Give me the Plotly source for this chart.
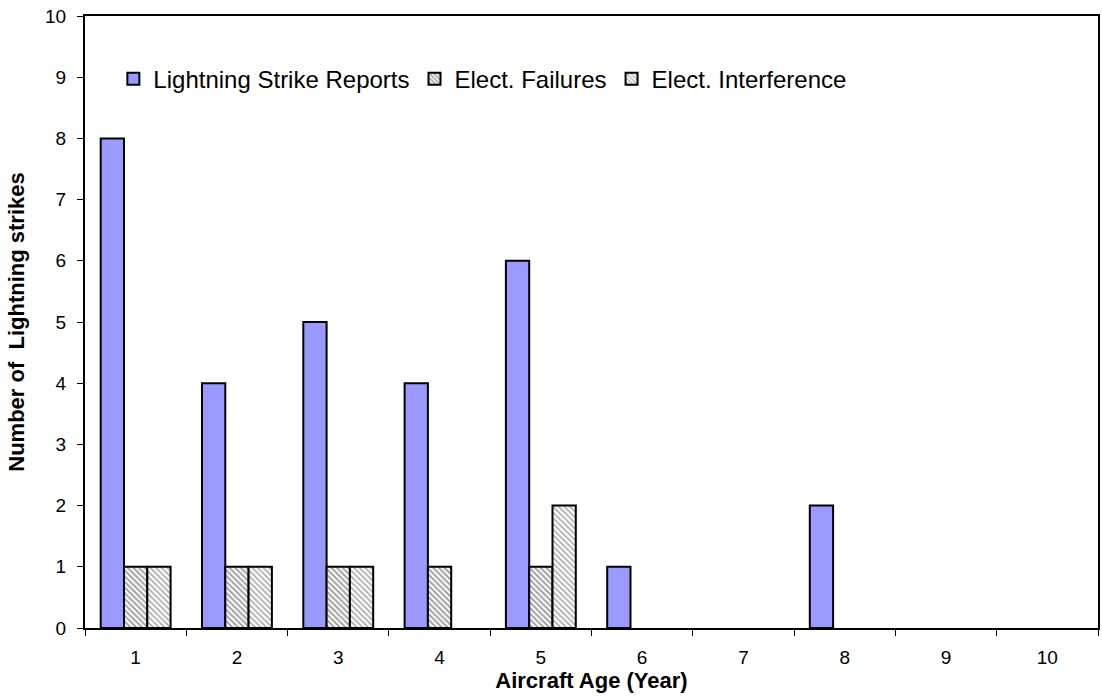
import plotly.graph_objects as go

ages = ["1", "2", "3", "4", "5", "6", "7", "8", "9", "10"]
lightning = [8, 4, 5, 4, 6, 1, 0, 2, 0, 0]
failures = [1, 1, 1, 1, 1, 0, 0, 0, 0, 0]
interference = [1, 1, 1, 0, 2, 0, 0, 0, 0, 0]


def edge_widths(vals):
    return [2 if v > 0 else 0 for v in vals]


fig = go.Figure()
fig.add_trace(go.Bar(
    x=ages, y=lightning, name="Lightning Strike Reports",
    marker=dict(color="#9999FF", line=dict(color="black", width=edge_widths(lightning))),
))
fig.add_trace(go.Bar(
    x=ages, y=failures, name="Elect. Failures",
    marker=dict(color="white", line=dict(color="black", width=edge_widths(failures)),
                pattern=dict(shape="\\", fgcolor="#444444", bgcolor="white", size=4, solidity=0.5)),
))
fig.add_trace(go.Bar(
    x=ages, y=interference, name="Elect. Interference",
    marker=dict(color="white", line=dict(color="black", width=edge_widths(interference)),
                pattern=dict(shape="\\", fgcolor="#555555", bgcolor="white", size=4, solidity=0.4)),
))

fig.update_layout(
    width=1102, height=698,
    margin=dict(l=85, r=4, t=16, b=70, autoexpand=False),
    paper_bgcolor="white", plot_bgcolor="white",
    font=dict(family="Liberation Sans, Arial", color="black"),
    barmode="group", bargap=0.31, bargroupgap=0,
    showlegend=True,
    legend=dict(orientation="h", x=0.028, y=0.897, xanchor="left", yanchor="middle",
                font=dict(size=24), bgcolor="rgba(0,0,0,0)", itemwidth=30,
                tracegroupgap=0),
    xaxis=dict(
        type="category", tickson="boundaries", ticks="outside", ticklen=6,
        tickcolor="black", tickwidth=1, tickfont=dict(size=19), ticklabelstandoff=11,
        showline=True, linecolor="black", linewidth=2, mirror=True,
        title=dict(text="Aircraft Age (Year)", font=dict(size=22, weight="bold"), standoff=0),
        showgrid=False, automargin=False,
    ),
    yaxis=dict(
        range=[0, 10], dtick=1, ticks="outside", ticklen=6, tickcolor="black",
        tickwidth=1, tickfont=dict(size=19), ticklabelstandoff=7,
        showline=True, linecolor="black", linewidth=2, mirror=True,
        title=dict(text="Number of  Lightning strikes", font=dict(size=22, weight="bold"), standoff=14),
        showgrid=False, zeroline=False, automargin=False,
    ),
)

fig.write_html(
    "out.html",
    config={"displayModeBar": False},
    post_script="document.body.style.margin='0';document.body.style.overflow='hidden';",
)
